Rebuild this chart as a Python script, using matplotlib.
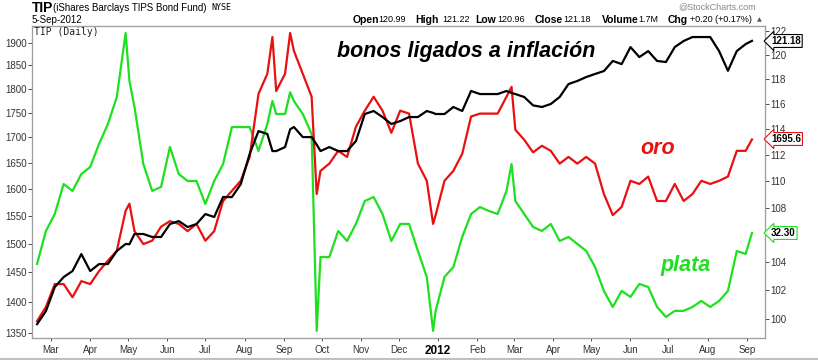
import matplotlib
matplotlib.use("Agg")
import matplotlib.pyplot as plt
import numpy as np
import pandas as pd
from matplotlib.ticker import FixedLocator, FixedFormatter, NullLocator

# weekly closes (Fridays)
weeks = pd.date_range("2011-02-18", "2012-08-31", freq="W-FRI")

gold_weekly = [1369, 1392, 1430, 1430, 1408, 1435, 1430, 1452, 1470, 1487,
               1559, 1522, 1499, 1505, 1530, 1540, 1535, 1522, 1535, 1505,
               1522, 1577, 1596, 1615, 1661, 1789, 1832, 1795, 1832, 1882,
               1832, 1783, 1634, 1648, 1673, 1661, 1721, 1754, 1783, 1754,
               1709, 1754, 1748, 1648, 1615, 1551, 1615, 1634, 1667, 1742,
               1748, 1748, 1748, 1783, 1715, 1695, 1670, 1683, 1673, 1648,
               1661, 1648, 1661, 1648, 1590, 1551, 1566, 1615, 1609, 1623,
               1577, 1577, 1609, 1577, 1590, 1615, 1609, 1615, 1623, 1673,
               1673]

silver_weekly = [30.33, 32.43, 33.57, 35.68, 35.18, 36.41, 36.94, 38.71, 40.31, 42.58,
                 48.50, 41.73, 37.16, 35.18, 35.47, 38.47, 36.41, 35.90, 35.90, 34.26,
                 35.90, 37.16, 40.06, 40.06, 40.06, 38.16, 40.31, 41.14, 41.14, 42.24,
                 41.14, 39.50, 30.76, 30.76, 32.43, 31.78, 32.90, 34.47, 34.75, 33.57,
                 31.78, 32.90, 32.90, 31.14, 29.54, 27.57, 29.54, 30.14, 32.04, 33.57,
                 34.05, 33.78, 33.57, 35.18, 34.47, 33.57, 32.70, 32.43, 32.90, 31.78,
                 32.04, 31.59, 31.14, 30.14, 28.71, 27.79, 28.71, 28.36, 29.12, 28.94,
                 27.79, 27.23, 27.57, 27.57, 27.79, 28.13, 27.79, 28.13, 28.71, 31.14,
                 30.95]

tip_weekly = [99.65, 100.55, 102.23, 102.94, 103.37, 104.59, 103.37, 103.87, 103.87, 104.81,
              105.32, 106.05, 106.05, 105.83, 105.83, 106.78, 107.00, 106.56, 106.78, 107.52,
              107.30, 108.79, 108.79, 109.77, 112.07, 113.86, 113.63, 112.30, 112.61, 114.18,
              113.39, 113.39, 112.30, 112.61, 112.30, 112.30, 113.08, 115.21, 115.45, 114.97,
              114.42, 114.65, 114.97, 114.97, 115.45, 115.21, 115.21, 115.77, 115.45, 117.06,
              116.81, 116.81, 116.81, 117.06, 116.81, 116.57, 115.90, 115.77, 116.01, 116.57,
              117.62, 117.87, 118.19, 118.44, 118.68, 119.51, 119.25, 120.66, 119.83, 120.33,
              119.51, 119.42, 120.66, 121.17, 121.50, 121.50, 121.50, 120.33, 118.70, 120.33,
              120.91]

# spikes between the weekly points, plus the last day
extra_dates = pd.to_datetime(["2011-05-02", "2011-08-23", "2011-09-06", "2011-09-27",
                              "2011-12-28", "2012-02-28", "2012-09-05"])
gold_extra = [1572, 1913, 1922, 1590, 1535, 1804, 1695.6]
silver_extra = [44.0, 42.24, 43.0, 26.47, 26.47, 37.16, 32.30]
tip_extra = [105.3, 112.3, 114.0, 112.8, 115.3, 116.9, 121.18]

gold_ticks = [1350, 1400, 1450, 1500, 1550, 1600, 1650, 1700, 1750, 1800, 1850, 1900]
tip_ticks = [100, 102, 104, 106, 108, 110, 112, 114, 116, 118, 120, 122]
# 106 sits behind the silver value tag in the original, so its label is blank
tip_tick_labels = ["100", "102", "104", "", "108", "110", "112", "114", "116", "118", "120", "122"]
month_labels = ["Mar", "Apr", "May", "Jun", "Jul", "Aug", "Sep", "Oct", "Nov", "Dec",
                "2012", "Feb", "Mar", "Apr", "May", "Jun", "Jul", "Aug", "Sep"]

df = pd.concat([
    pd.DataFrame({"gold": gold_weekly, "silver": silver_weekly, "tip": tip_weekly}, index=weeks),
    pd.DataFrame({"gold": gold_extra, "silver": silver_extra, "tip": tip_extra}, index=extra_dates),
]).sort_index()

RED = "#e81010"
GREEN = "#1ee01e"
FONT = "Liberation Sans"
W, H = 818, 362

fig = plt.figure(figsize=(W / 100, H / 100), dpi=100, facecolor="white")
ax = fig.add_axes([32 / W, 1 - 338 / H, (765 - 32) / W, (338 - 26) / H])
ax_s = ax.twinx()
ax_t = ax.twinx()
ax.set_zorder(1)
ax.patch.set_visible(False)
ax_s.set_zorder(0)
ax_t.set_zorder(2)

ax_s.plot(df.index, df["silver"], color=GREEN, lw=1.6)
ax.plot(df.index, df["gold"], color=RED, lw=1.6)
ax_t.plot(df.index, df["tip"], color="black", lw=1.6)

for a in (ax, ax_s, ax_t):
    a.set_yscale("log")
    a.yaxis.set_minor_locator(NullLocator())
    for sp in a.spines.values():
        sp.set_color("#a0a0a0")
        sp.set_linewidth(0.8)

ax.set_ylim(1342, 1938)
ax_t.set_ylim(98.70, 122.43)
ax_s.set_ylim(26.09, 49.20)
ax_s.yaxis.set_major_locator(NullLocator())

ax.yaxis.set_major_locator(FixedLocator(gold_ticks))
ax.yaxis.set_major_formatter(FixedFormatter([str(v) for v in gold_ticks]))
ax_t.yaxis.set_major_locator(FixedLocator(tip_ticks))
ax_t.yaxis.set_major_formatter(FixedFormatter(tip_tick_labels))
ax.tick_params(axis="y", labelsize=7, colors="#333333", length=3, width=0.6, pad=1)
ax_t.tick_params(axis="y", labelsize=7, colors="#333333", length=3, width=0.6, pad=1)
for lab in ax.get_yticklabels() + ax_t.get_yticklabels():
    lab.set_fontfamily(FONT)

start = pd.Timestamp("2011-02-14")
ax.set_xlim(start, start + pd.Timedelta(days=579.3))
month_starts = pd.date_range("2011-03-01", "2012-09-01", freq="MS")
ax.set_xticks(month_starts)
ax.set_xticklabels(month_labels)
ax.tick_params(axis="x", labelsize=7, colors="#333333", length=2, width=0.6, pad=3)
for lab in ax.get_xticklabels():
    lab.set_fontfamily(FONT)
    if lab.get_text() == "2012":
        lab.set_fontweight("bold")
        lab.set_fontsize(8.5)
        lab.set_color("black")


def fx(px):
    return px / W


def fy(py):
    return 1 - py / H


# header
fig.text(fx(32), fy(8), "TIP", fontsize=10, fontweight="bold", family=FONT, va="center")
fig.text(fx(53), fy(8), "(iShares Barclays TIPS Bond Fund)", fontsize=7, family=FONT, va="center")
fig.text(fx(211), fy(8), "NYSE", fontsize=6, family="DejaVu Sans Mono", va="center")
fig.text(fx(32), fy(20), "5-Sep-2012", fontsize=7, family=FONT, va="center")
fig.text(fx(756), fy(7), "@StockCharts.com", fontsize=6.5, family=FONT, color="#888888",
         ha="right", va="center")
header = [(353, "Open", True), (378, "120.99", False), (415, "High", True), (442, "121.22", False),
          (475, "Low", True), (497, "120.96", False), (535, "Close", True), (563, "121.18", False),
          (602, "Volume", True), (638, "1.7M", False), (668, "Chg", True),
          (690, "+0.20 (+0.17%)", False)]
for px, txt, bold in header:
    fig.text(fx(px), fy(20), txt, fontsize=7.5 if bold else 6.5, family=FONT,
             fontweight="bold" if bold else "normal", va="center")
fig.text(fx(757), fy(20), "\u25b2", fontsize=4.5, color="#555555", family="DejaVu Sans", va="center")

fig.text(fx(34), fy(32), "TIP (Daily)", fontsize=7, family="DejaVu Sans Mono", va="center",
         color="#222222")

# annotations
fig.text(fx(337), fy(51), "bonos ligados a inflación", fontsize=15.5, fontweight="bold",
         style="italic", family=FONT, va="center")
fig.text(fx(640), fy(148), "oro", fontsize=15.5, fontweight="bold", style="italic",
         family=FONT, color=RED, va="center")
fig.text(fx(660), fy(265), "plata", fontsize=15.5, fontweight="bold", style="italic",
         family=FONT, color=GREEN, va="center")

# last-value tags on the right edge, drawn over the tick labels
for py, txt, col in [(41, "121.18", "black"), (139, "1695.6", RED), (233, "32.30", GREEN)]:
    fig.text(fx(771), fy(py), txt, fontsize=7, fontweight="bold", family=FONT, va="center",
             color="black", zorder=10,
             bbox=dict(boxstyle="larrow,pad=0.15", fc="white", ec=col, lw=0.8))

fig.add_artist(plt.Line2D([0, 1], [fy(359), fy(359)], color="#c0c0c0", lw=1.5))

fig.savefig("out.png", dpi=100, facecolor="white")
